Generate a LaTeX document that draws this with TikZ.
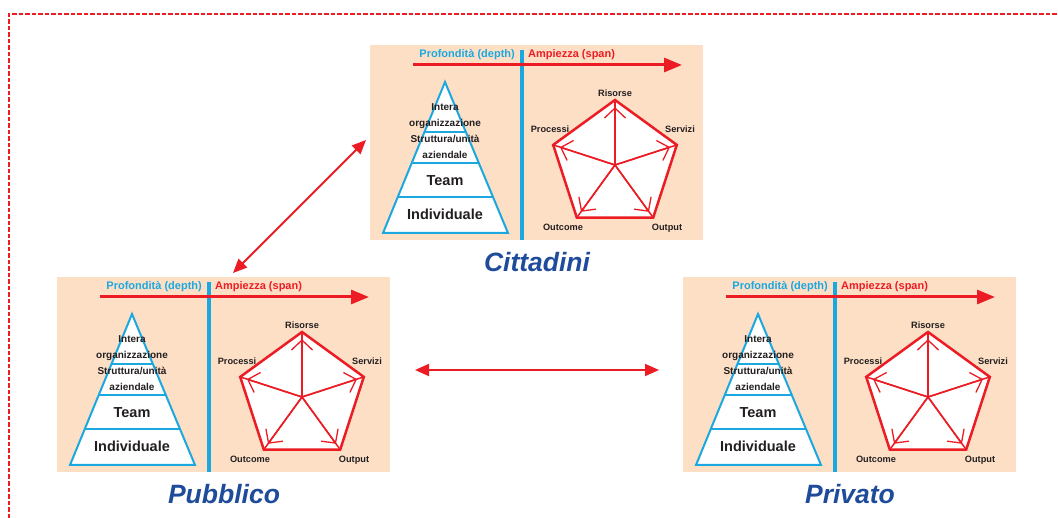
\documentclass[tikz,border=0pt]{standalone}
\usepackage{fontspec}
\setmainfont{Liberation Sans}
\usetikzlibrary{arrows.meta}
\usetikzlibrary{calc}

\definecolor{peach}{HTML}{FDDFC6}
\definecolor{skyline}{HTML}{1BA8E0}
\definecolor{spanred}{HTML}{EC1C24}
\definecolor{titleblue}{HTML}{1E4C9B}
\definecolor{inktext}{HTML}{231F20}

\begin{document}
\begin{tikzpicture}[x=1pt, y=-1pt,
    panelbox/.style={rectangle, fill=peach, inner sep=0pt, minimum width=333pt, minimum height=195pt},
    divider/.style={skyline, line width=3.5pt},
    spanarrow/.style={spanred, line width=3pt, -{Triangle[length=18pt,width=14pt]}},
    pyr/.style={skyline, line width=2pt, fill=white, line join=miter},
    pyrline/.style={skyline, line width=2pt},
    penta/.style={spanred, line width=2.5pt, fill=white, line join=miter},
    spokeline/.style={spanred, line width=1.5pt},
    spoke/.style={spanred, line width=1.5pt, -{Straight Barb[length=10pt,width=21pt,line width=1.3pt]}},
    hdr/.style={font=\fontsize{11}{13}\selectfont\bfseries, inner sep=0pt},
    pyrsmall/.style={font=\fontsize{10}{12}\selectfont\bfseries, text=inktext, inner sep=0pt, anchor=base},
    pyrbig/.style={font=\fontsize{14.5}{17}\selectfont\bfseries, text=inktext, inner sep=0pt, anchor=base},
    vtx/.style={font=\fontsize{9.2}{11}\selectfont\bfseries, text=inktext, inner sep=0pt, anchor=base},
    sector/.style={font=\fontsize{26.5}{30}\selectfont\bfseries\itshape, text=titleblue, inner sep=0pt},
    link/.style={spanred, line width=1.8pt, {Triangle[length=14pt,width=12pt]}-{Triangle[length=14pt,width=12pt]}},
    frame/.style={spanred, line width=1.2pt, dash pattern=on 4.5pt off 2pt}
  ]
  \useasboundingbox (0,0) rectangle (1058,518);

  % dashed frame
  \draw[frame] (9,518) -- (9,14) -- (1058,14);

  % the three panels
  \foreach \n/\px/\py/\ttl in {cit/370/45/Cittadini, pub/57/277/Pubblico, pri/683/277/Privato} {
    \begin{scope}[shift={(\px,\py)}]
      \node[panelbox] (\n-box) at (166.5,97.5) {};
      \draw[divider] (152,5) -- (152,195);
      \node[hdr, text=skyline, anchor=base east] (\n-depth) at (145,13) {Profondità (depth)};
      \node[hdr, text=spanred, anchor=base west] (\n-span) at (158,13) {Ampiezza (span)};
      \coordinate (\n-s) at (43,20);
      \coordinate (\n-e) at (312,20);
      \draw[spanarrow] (\n-s) -- (\n-e);

      % pyramid
      \coordinate (\n-apex) at (75,37);
      \coordinate (\n-bl) at (13,188);
      \coordinate (\n-br) at (138,188);
      \draw[pyr] (\n-apex) -- (\n-br) -- (\n-bl) -- cycle;
      \draw[pyrline] ($(\n-apex)!0.331!(\n-bl)$) -- ($(\n-apex)!0.331!(\n-br)$);
      \draw[pyrline] ($(\n-apex)!0.536!(\n-bl)$) -- ($(\n-apex)!0.536!(\n-br)$);
      \draw[pyrline] ($(\n-apex)!0.762!(\n-bl)$) -- ($(\n-apex)!0.762!(\n-br)$);
      \node[pyrsmall] (\n-int) at (75,66) {Intera};
      \node[pyrsmall] (\n-org) at (75,82) {organizzazione};
      \node[pyrsmall] (\n-str) at (75,98) {Struttura/unità};
      \node[pyrsmall] (\n-az) at (75,114) {aziendale};
      \node[pyrbig] (\n-team) at (75,141) {Team};
      \node[pyrbig] (\n-ind) at (75,174.5) {Individuale};

      % pentagon
      \coordinate (\n-c) at (245,120);
      \coordinate (\n-ris) at (245,55);
      \coordinate (\n-ser) at (306.8,99.9);
      \coordinate (\n-out) at (283.2,172.6);
      \coordinate (\n-oc) at (206.8,172.6);
      \coordinate (\n-pro) at (183.2,99.9);
      \draw[penta] (\n-ris) -- (\n-ser) -- (\n-out) -- (\n-oc) -- (\n-pro) -- cycle;
      \draw[spokeline] (\n-c) -- (\n-ris);
      \draw[spokeline] (\n-c) -- (\n-ser);
      \draw[spokeline] (\n-c) -- (\n-out);
      \draw[spokeline] (\n-c) -- (\n-oc);
      \draw[spokeline] (\n-c) -- (\n-pro);
      \draw[spoke] (\n-c) -- ($(\n-c)!0.89!(\n-ris)$);
      \draw[spoke] (\n-c) -- ($(\n-c)!0.89!(\n-ser)$);
      \draw[spoke] (\n-c) -- ($(\n-c)!0.89!(\n-out)$);
      \draw[spoke] (\n-c) -- ($(\n-c)!0.89!(\n-oc)$);
      \draw[spoke] (\n-c) -- ($(\n-c)!0.89!(\n-pro)$);
      \node[vtx] (\n-lris) at (245,51.5) {Risorse};
      \node[vtx] (\n-lser) at (310,87.5) {Servizi};
      \node[vtx] (\n-lpro) at (180,87.5) {Processi};
      \node[vtx] (\n-loc) at (193,185.5) {Outcome};
      \node[vtx] (\n-lout) at (297,185.5) {Output};

      \node[sector] (\n-title) at (167,217) {\ttl};
    \end{scope}
  }

  % links between the panels
  \coordinate (diagA) at (233,273);
  \coordinate (diagB) at (366,140);
  \coordinate (horA) at (415,370);
  \coordinate (horB) at (659,370);
  \draw[link] (diagA) -- (diagB);
  \draw[link] (horA) -- (horB);
\end{tikzpicture}
\end{document}
